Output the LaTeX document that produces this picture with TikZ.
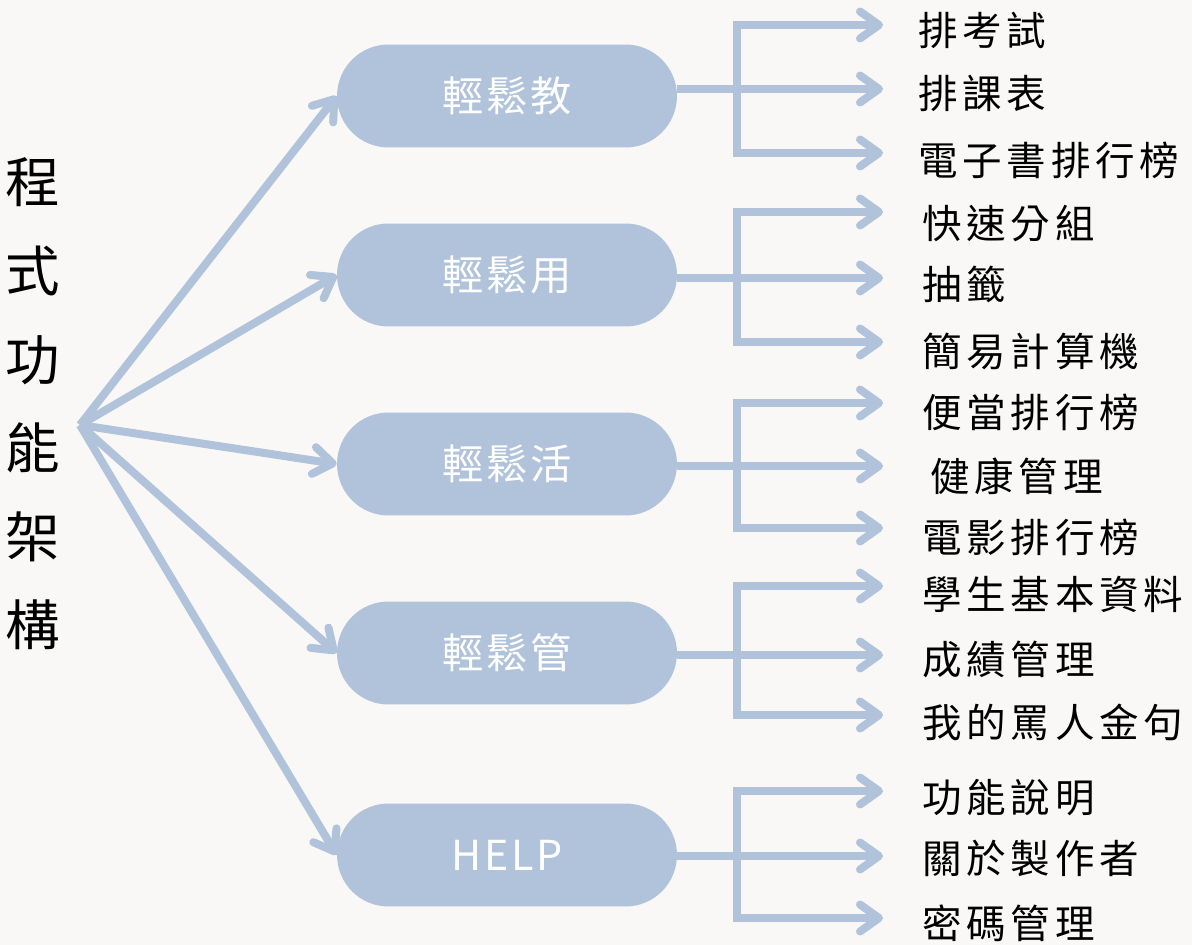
\documentclass[tikz,border=0pt]{standalone}
\usepackage{fontspec}
\setmainfont{Noto Sans CJK TC}
\usetikzlibrary{arrows.meta,positioning}
\definecolor{paper}{HTML}{F9F8F7}
\definecolor{pillblue}{HTML}{B0C3DB}
\tikzset{
    module/.style={fill=pillblue,rounded corners=1.03cm,minimum width=6.8cm,minimum height=2.06cm,
        text=white,font=\fontsize{23.5}{28}\selectfont\addfontfeature{LetterSpace=7}},
    item/.style={anchor=west,inner sep=0pt,text=black,
        font=\fontsize{22.5}{27}\selectfont\addfontfeature{LetterSpace=12}},
    link/.style={pillblue,line width=1.6mm,line join=miter,
        -{Straight Barb[length=3.8mm,width=5.4mm,round]}},
    fork/.style={link,{Straight Barb[length=3.8mm,width=5.4mm,round]}-{Straight Barb[length=3.8mm,width=5.4mm,round]}}
}

\begin{document}
\begin{tikzpicture}[x=0.02cm,y=-0.02cm]
\useasboundingbox[fill=paper] (0,0) rectangle (1192,945);

% ========= Title =========
\node[align=center,font=\fontsize{31}{50.4}\selectfont] (title) at (33,404) {程\\式\\功\\能\\架\\構};
\coordinate (hub) at (80,425);
\coordinate (knot) at (737,0);

% == 輕鬆教 ==%
\node[module] (P1) at (507,96) {輕鬆教};
\coordinate (P1-t) at (883,25);
\coordinate (P1-m) at (883,89);
\coordinate (P1-b) at (883,153);
\node[item] (L1-t) at (918,30) {排考試};
\node[item] (L1-m) at (918,93) {排課表};
\node[item] (L1-b) at (918,160) {電子書排行榜};

% == 輕鬆用 ==%
\node[module] (P2) at (507,275) {輕鬆用};
\coordinate (P2-t) at (883,212);
\coordinate (P2-m) at (883,278);
\coordinate (P2-b) at (883,342);
\node[item] (L2-t) at (922,224) {快速分組};
\node[item] (L2-m) at (922,284) {抽籤};
\node[item] (L2-b) at (922,351) {簡易計算機};

% == 輕鬆活 ==%
\node[module] (P3) at (507,464) {輕鬆活};
\coordinate (P3-t) at (883,403);
\coordinate (P3-m) at (883,466);
\coordinate (P3-b) at (883,528);
\node[item] (L3-t) at (922,412) {便當排行榜};
\node[item] (L3-m) at (930,476) {健康管理};
\node[item] (L3-b) at (922,537) {電影排行榜};

% == 輕鬆管 ==%
\node[module] (P4) at (507,653) {輕鬆管};
\coordinate (P4-t) at (883,586);
\coordinate (P4-m) at (883,655);
\coordinate (P4-b) at (883,715);
\node[item] (L4-t) at (922,594) {學生基本資料};
\node[item] (L4-m) at (922,659) {成績管理};
\node[item] (L4-b) at (922,722) {我的罵人金句};

% == HELP ==%
\node[module] (P5) at (507,855) {HELP};
\coordinate (P5-t) at (883,791);
\coordinate (P5-m) at (883,856);
\coordinate (P5-b) at (883,918);
\node[item] (L5-t) at (922,798) {功能說明};
\node[item] (L5-m) at (922,858) {關於製作者};
\node[item] (L5-b) at (922,923) {密碼管理};

% ========= Connectors =========
\foreach \P in {P1,P2,P3,P4,P5}
{
    \draw[link] (hub) -- (\P.west);
    \draw[fork] (\P-t) -- (\P-t -| knot) -- (\P-b -| knot) -- (\P-b);
    \draw[link] (\P.east |- \P-m) -- (\P-m);
}

\end{tikzpicture}
\end{document}
